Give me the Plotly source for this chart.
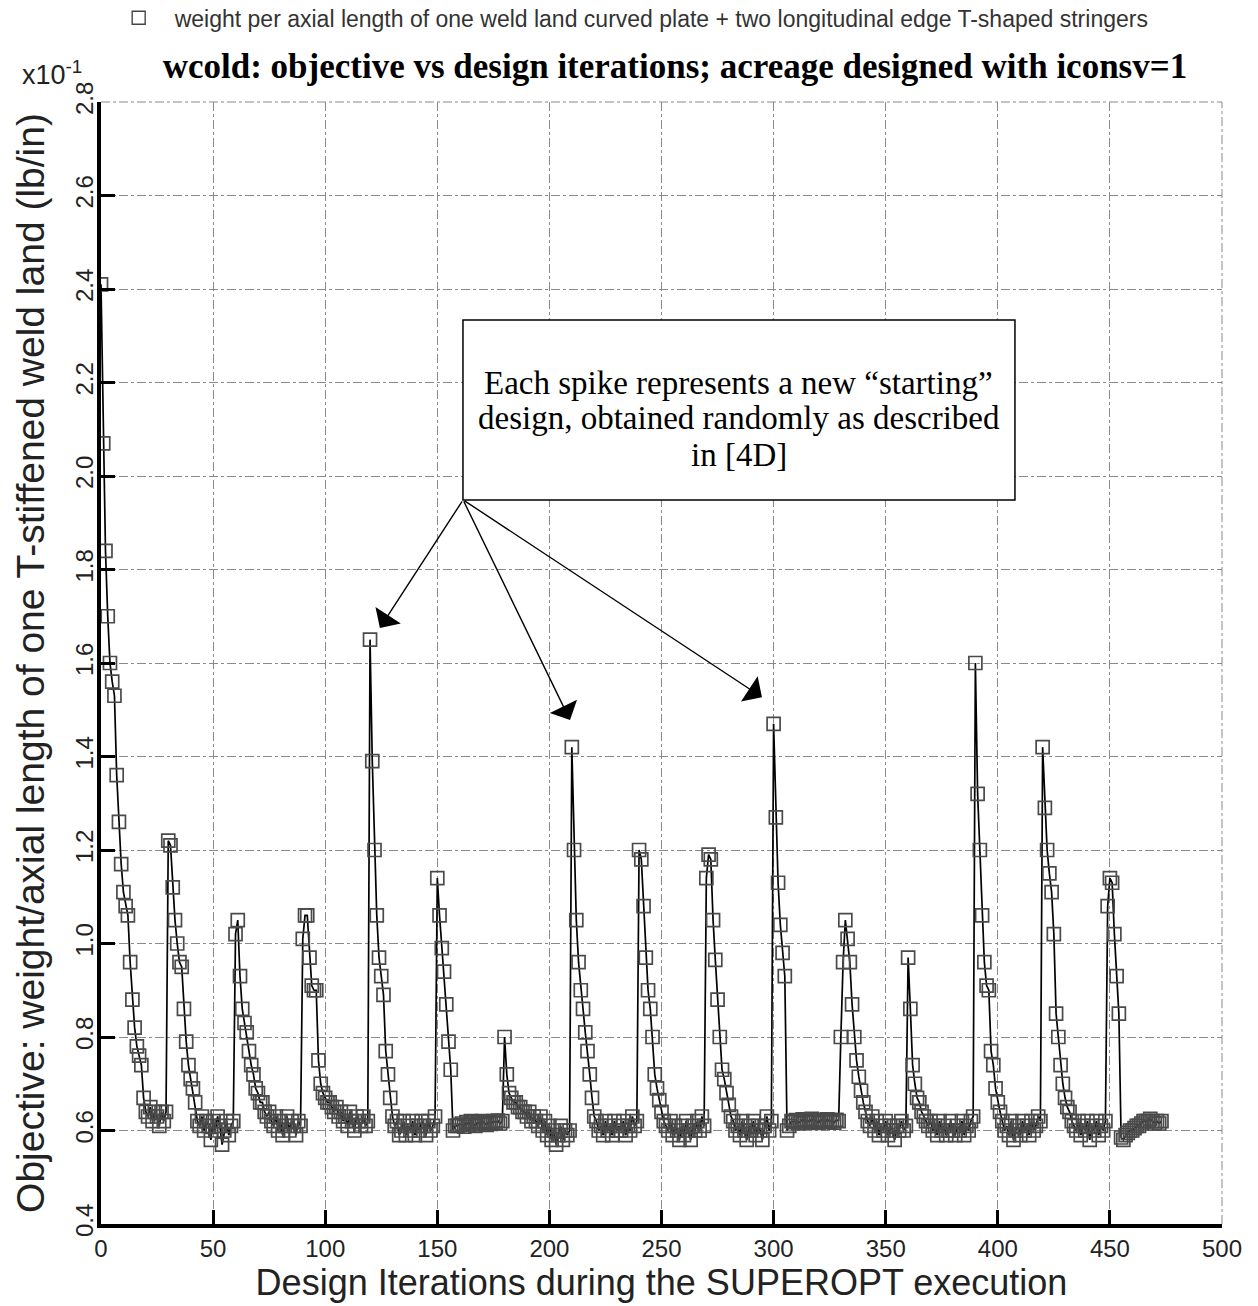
import plotly.graph_objects as go

# ---- data (objective x10^-1, one value per design iteration) ----
cycle_000 = [2.41, 2.07, 1.84, 1.70, 1.60, 1.56, 1.53, 1.36, 1.26, 1.17,
             1.11, 1.08, 1.06, 0.96, 0.88, 0.82, 0.78, 0.76, 0.74, 0.67,
             0.64, 0.63, 0.65, 0.62, 0.64, 0.63, 0.61, 0.64, 0.62, 0.64]
cycle_030 = [1.22, 1.21, 1.12, 1.05, 1.00, 0.96, 0.95, 0.86, 0.79, 0.74,
             0.71, 0.69, 0.66, 0.62, 0.61, 0.63, 0.60, 0.62, 0.61, 0.58,
             0.62, 0.60, 0.63, 0.61, 0.57, 0.60, 0.62, 0.59, 0.61, 0.62]
cycle_060 = [1.02, 1.05, 0.93, 0.86, 0.83, 0.81, 0.77, 0.74, 0.72, 0.69,
             0.68, 0.66, 0.66, 0.64, 0.63, 0.64, 0.62, 0.61, 0.63, 0.60,
             0.62, 0.59, 0.61, 0.63, 0.60, 0.62, 0.61, 0.59, 0.62, 0.61]
cycle_090 = [1.01, 1.06, 1.06, 0.97, 0.91, 0.90, 0.90, 0.75, 0.70, 0.68,
             0.67, 0.66, 0.66, 0.65, 0.64, 0.65, 0.63, 0.64, 0.62, 0.63,
             0.61, 0.64, 0.62, 0.60, 0.63, 0.62, 0.61, 0.63, 0.61, 0.62]
cycle_120 = [1.65, 1.39, 1.20, 1.06, 0.97, 0.93, 0.89, 0.77, 0.72, 0.67,
             0.63, 0.61, 0.62, 0.59, 0.60, 0.62, 0.59, 0.61, 0.60, 0.62,
             0.59, 0.61, 0.60, 0.62, 0.61, 0.59, 0.62, 0.60, 0.61, 0.63]
cycle_150 = [1.14, 1.06, 0.99, 0.94, 0.87, 0.79, 0.73, 0.60, 0.61, 0.61,
             0.612, 0.615, 0.608, 0.618, 0.612, 0.620, 0.615, 0.610, 0.618, 0.613,
             0.620, 0.616, 0.612, 0.619, 0.614, 0.620, 0.617, 0.621, 0.615, 0.620]
cycle_180 = [0.80, 0.72, 0.68, 0.67, 0.66, 0.66, 0.65, 0.65, 0.64, 0.64,
             0.63, 0.64, 0.62, 0.63, 0.62, 0.61, 0.63, 0.60, 0.62, 0.59,
             0.61, 0.58, 0.60, 0.57, 0.59, 0.61, 0.58, 0.60, 0.59, 0.60]
cycle_210 = [1.42, 1.20, 1.05, 0.96, 0.90, 0.86, 0.81, 0.77, 0.72, 0.67,
             0.63, 0.62, 0.60, 0.61, 0.59, 0.62, 0.60, 0.61, 0.59, 0.62,
             0.60, 0.61, 0.60, 0.62, 0.59, 0.61, 0.60, 0.63, 0.61, 0.62]
cycle_240 = [1.20, 1.18, 1.08, 0.97, 0.90, 0.86, 0.80, 0.72, 0.69, 0.665,
             0.64, 0.62, 0.61, 0.60, 0.62, 0.59, 0.61, 0.60, 0.58, 0.61,
             0.59, 0.62, 0.60, 0.58, 0.61, 0.60, 0.62, 0.60, 0.63, 0.61]
cycle_270 = [1.14, 1.19, 1.18, 1.05, 0.965, 0.88, 0.80, 0.73, 0.71, 0.68,
             0.655, 0.63, 0.62, 0.60, 0.61, 0.59, 0.62, 0.60, 0.58, 0.61,
             0.60, 0.62, 0.59, 0.61, 0.60, 0.58, 0.61, 0.63, 0.60, 0.62]
cycle_300 = [1.47, 1.27, 1.13, 1.04, 0.98, 0.93, 0.60, 0.61, 0.62, 0.618,
             0.622, 0.615, 0.620, 0.624, 0.617, 0.621, 0.619, 0.625, 0.618, 0.622,
             0.616, 0.623, 0.620, 0.618, 0.624, 0.619, 0.621, 0.617, 0.623, 0.620]
cycle_330 = [0.80, 0.96, 1.05, 1.01, 0.96, 0.87, 0.80, 0.75, 0.715, 0.685,
             0.66, 0.64, 0.62, 0.61, 0.63, 0.60, 0.62, 0.59, 0.61, 0.60,
             0.62, 0.59, 0.61, 0.60, 0.58, 0.61, 0.60, 0.62, 0.60, 0.61]
cycle_360 = [0.97, 0.86, 0.74, 0.70, 0.67, 0.66, 0.64, 0.63, 0.62, 0.61,
             0.62, 0.60, 0.61, 0.59, 0.62, 0.60, 0.61, 0.59, 0.60, 0.62,
             0.60, 0.59, 0.61, 0.60, 0.62, 0.59, 0.61, 0.60, 0.62, 0.63]
cycle_390 = [1.60, 1.32, 1.20, 1.06, 0.96, 0.91, 0.90, 0.77, 0.74, 0.69,
             0.66, 0.64, 0.62, 0.60, 0.61, 0.59, 0.62, 0.58, 0.60, 0.61,
             0.59, 0.62, 0.60, 0.61, 0.59, 0.62, 0.60, 0.61, 0.63, 0.62]
cycle_420 = [1.42, 1.29, 1.20, 1.15, 1.11, 1.02, 0.85, 0.80, 0.74, 0.70,
             0.67, 0.65, 0.64, 0.62, 0.61, 0.60, 0.62, 0.59, 0.61, 0.60,
             0.62, 0.58, 0.61, 0.60, 0.62, 0.59, 0.61, 0.60, 0.62, 1.08]
cycle_450 = [1.14, 1.13, 1.02, 0.93, 0.85, 0.585, 0.58, 0.59, 0.595, 0.60,
             0.60, 0.605, 0.61, 0.61, 0.615, 0.62, 0.62, 0.62, 0.625, 0.62,
             0.615, 0.62, 0.615, 0.62]

cycles = [cycle_000, cycle_030, cycle_060, cycle_090, cycle_120, cycle_150,
          cycle_180, cycle_210, cycle_240, cycle_270, cycle_300, cycle_330,
          cycle_360, cycle_390, cycle_420, cycle_450]
objective = [v for c in cycles for v in c]
iterations = list(range(len(objective)))

x_ticks = [0, 50, 100, 150, 200, 250, 300, 350, 400, 450, 500]
y_ticks = [0.4, 0.6, 0.8, 1.0, 1.2, 1.4, 1.6, 1.8, 2.0, 2.2, 2.4, 2.6, 2.8]

legend_name = "weight per axial length of one weld land curved plate + two longitudinal edge T-shaped stringers"
title_text = "wcold: objective vs design iterations; acreage designed with iconsv=1"
x_title = "Design Iterations during the SUPEROPT execution"
y_title = "Objective: weight/axial length of one T-stiffened weld land (lb/in)"
note_lines = ["Each spike represents a new “starting”",
              "design, obtained randomly as described",
              "in [4D]"]

SANS = "Liberation Sans, Arial, sans-serif"
SERIF = "Liberation Serif, Times New Roman, serif"

fig = go.Figure()
fig.add_trace(go.Scatter(
    x=iterations, y=objective, mode="lines+markers", showlegend=False,
    line=dict(color="black", width=1.7),
    marker=dict(symbol="square-open", size=13, color="#4a4a4a",
                line=dict(width=1.7, color="#4a4a4a")),
))
# legend entry (marker only)
fig.add_trace(go.Scatter(
    x=[None], y=[None], mode="markers", name=legend_name,
    marker=dict(symbol="square-open", size=13, color="#444",
                line=dict(width=1.4, color="#444")),
))

axis_common = dict(
    showline=True, linewidth=4, linecolor="black", mirror=False,
    ticks="inside", ticklen=14, tickwidth=3, tickcolor="black",
    showgrid=True, gridcolor="#8a8a8a", gridwidth=1, griddash="dashdot",
    zeroline=False, tickfont=dict(family=SANS, size=24, color="#222"),
)
fig.update_xaxes(range=[0, 500], tickvals=x_ticks,
                 title=dict(text=x_title, font=dict(family=SANS, size=36, color="#222"), standoff=2),
                 **axis_common)
fig.update_yaxes(range=[0.4, 2.8], tickvals=y_ticks, tickformat=".1f", tickangle=-90,
                 ticklabelstandoff=-6,
                 title=dict(text=y_title, font=dict(family=SANS, size=39, color="#222"), standoff=16),
                 **axis_common)

fig.update_layout(
    width=1258, height=1306,
    margin=dict(l=101, r=36, t=102, b=82, autoexpand=False),
    paper_bgcolor="white", plot_bgcolor="white",
    title=dict(text="<b>" + title_text + "</b>", font=dict(family=SERIF, size=35, color="black"),
               x=0.512, xref="paper", xanchor="center", y=1 - 66 / 1306, yanchor="middle"),
    showlegend=True,
    legend=dict(orientation="h", x=0.0015, xanchor="left", y=1.075, yanchor="middle",
                itemwidth=62, bgcolor="rgba(0,0,0,0)",
                font=dict(family=SANS, size=23, color="#333")),
)

# dotted top and right frame lines
fig.add_shape(type="line", xref="paper", yref="paper", x0=0, x1=1, y0=1, y1=1,
              line=dict(color="#8a8a8a", width=1, dash="dashdot"))
fig.add_shape(type="line", xref="paper", yref="paper", x0=1, x1=1, y0=0, y1=1,
              line=dict(color="#8a8a8a", width=1, dash="dashdot"))

# box with note
fig.add_shape(type="rect", xref="paper", yref="paper",
              x0=0.3229, x1=0.8153, y0=0.6453, y1=0.8057,
              line=dict(color="black", width=1.5), fillcolor="white", layer="above")
for line_text, py in zip(note_lines, [383, 418, 455]):
    fig.add_annotation(xref="paper", yref="paper", x=0.569, y=(1224 - py) / 1122,
                       xanchor="center", yanchor="middle", text=line_text,
                       showarrow=False, font=dict(family=SERIF, size=33, color="black"))

# arrows from box corner to spikes
tail_x, tail_y = 161.5, 1.949
heads = [(124.4, 1.675), (209.2, 1.478), (294.8, 1.527)]
for hx, hy in heads:
    fig.add_annotation(x=hx, y=hy, xref="x", yref="y", ax=tail_x, ay=tail_y,
                       axref="x", ayref="y", text="", showarrow=True,
                       arrowhead=1, arrowsize=3.6, arrowwidth=1.4, arrowcolor="black")

# exponent label
fig.add_annotation(xref="paper", yref="paper", x=-0.0437, y=1.026, xanchor="center",
                   yanchor="middle", text="x10<sup>-1</sup>",
                   showarrow=False, font=dict(family=SANS, size=27, color="#222"))

fig.write_html("out.html")
